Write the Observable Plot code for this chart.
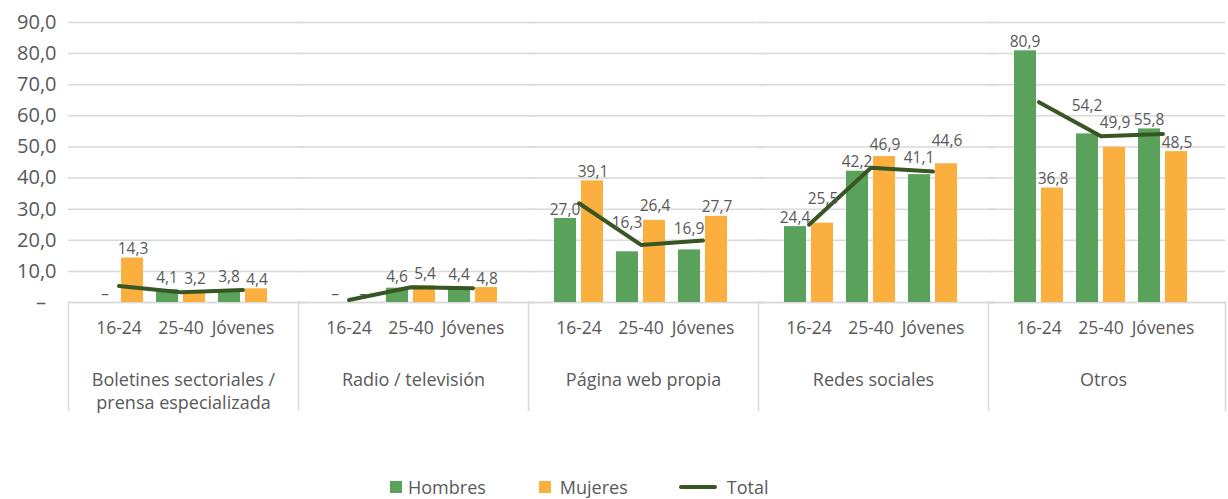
<!DOCTYPE html>
<html><head><meta charset="utf-8">
<script src="https://cdn.jsdelivr.net/npm/d3@7"></script>
<script src="https://cdn.jsdelivr.net/npm/@observablehq/plot@0.6"></script>
<style>
body{margin:0;background:#fff;font-family:"Open Sans",sans-serif;}
#legend{display:flex;align-items:center;height:54px;padding-left:390px;color:#595959;font-size:18px;}
.item{display:flex;align-items:center;}
.sw{width:12px;height:12px;margin-right:6px;}
.ln{width:38px;height:4px;border-radius:2px;margin-right:10px;}
</style></head><body>
<div id="chart"></div>
<div id="legend">
  <div class="item"><span class="sw" style="background:#5aa15b"></span>Hombres</div>
  <div class="item" style="margin-left:53px"><span class="sw" style="background:#fbaf3f;margin-right:9px"></span>Mujeres</div>
  <div class="item" style="margin-left:51px"><span class="ln" style="background:#375623"></span>Total</div>
</div>
<script>
const categorias = ["Boletines sectoriales /\nprensa especializada", "Radio / televisión", "Página web propia", "Redes sociales", "Otros"];
const edades = ["16-24", "25-40", "Jóvenes"];
const hombres = [0, 4.1, 3.8,  0, 4.6, 4.4,  27.0, 16.3, 16.9,  24.4, 42.2, 41.1,  80.9, 54.2, 55.8];
const mujeres = [14.3, 3.2, 4.4,  0, 5.4, 4.8,  39.1, 26.4, 27.7,  25.5, 46.9, 44.6,  36.8, 49.9, 48.5];
const total   = [5.3, 3.3, 4.0,  0.8, 4.9, 4.6,  31.9, 18.5, 19.9,  25.0, 43.3, 42.1,  64.4, 53.4, 54.2];
const yTicks = [0, 10, 20, 30, 40, 50, 60, 70, 80, 90];

const rows = [];
categorias.forEach((c, i) => edades.forEach((e, j) => {
  const k = i * 3 + j;
  rows.push({cat: c, edad: e, j, k, hombres: hombres[k], mujeres: mujeres[k], total: total[k]});
}));
const fmt = v => v === 0 ? "–" : v.toFixed(1).replace(".", ",");

// label placement: lift a label above the Total line when the line crosses it,
// then separate the two labels of a pair when they would collide.
const f = 0.22;
const labH = [], labM = [];
rows.forEach(r => {
  const {j, k} = r;
  const laH = j > 0 ? total[k - 1] + (1 - f) * (total[k] - total[k - 1]) : null;
  const laM = j < 2 ? total[k] + f * (total[k + 1] - total[k]) : null;
  const place = (v, la) => (v > 0 && la != null && la >= v - 1 && la <= v + 6) ? la + 1.3 : v;
  let yH = place(r.hombres, laH), yM = place(r.mujeres, laM);
  const tH = fmt(r.hombres), tM = fmt(r.mujeres);
  if (r.hombres > 0 && r.mujeres > 0 && (tH.length + tM.length) * 3.9 > 28 && Math.abs(yH - yM) < 5) {
    if (yH > yM) yH = yM + 5.5; else yM = yH + 5.5;
  }
  labH.push({cat: r.cat, edad: r.edad, y: yH, text: tH});
  labM.push({cat: r.cat, edad: r.edad, y: yM, text: tM});
});

const W = 1228, H = 460, Y0 = 302, TOP = 22;
const gray = "#595959", gridc = "#d9d9d9";
const chart = Plot.plot({
  width: W, height: H,
  marginTop: TOP, marginLeft: 67, marginRight: 8.5, marginBottom: H - Y0,
  style: {fontFamily: "Open Sans, sans-serif", color: gray, background: "#fff", overflow: "visible"},
  fx: {domain: categorias, padding: 0, axis: null},
  x: {domain: edades, paddingInner: 0.206, paddingOuter: 0.433, align: 0.45, axis: null},
  y: {domain: [0, 90], axis: null},
  marks: [
    Plot.gridY(yTicks, {stroke: gridc, strokeOpacity: 1, strokeWidth: 1.5, insetRight: -7}),
    Plot.axisY(yTicks, {tickSize: 0, tickPadding: 12, fontSize: 20, fill: gray,
      tickFormat: v => v === 0 ? "–\u00a0\u00a0" : v.toFixed(1).replace(".", ",")}),
    Plot.ruleY([0], {stroke: gridc, strokeWidth: 1.5, insetRight: -7}),
    Plot.frame({anchor: "left", insetTop: Y0 - TOP, insetBottom: -108, stroke: gridc, strokeWidth: 1.5}),
    Plot.frame({anchor: "right", facetAnchor: "right", insetRight: -7, insetTop: Y0 - TOP, insetBottom: -108, stroke: gridc, strokeWidth: 1.5}),
    Plot.barY(rows, {fx: "cat", x: "edad", y: "hombres", fill: "#5aa15b", insetRight: 27}),
    Plot.barY(rows, {fx: "cat", x: "edad", y: "mujeres", fill: "#fbaf3f", insetLeft: 27}),
    Plot.line(rows, {fx: "cat", x: "edad", y: "total", stroke: "#375623", strokeWidth: 4, strokeLinecap: "round"}),
    Plot.text(labH, {fx: "cat", x: "edad", y: "y", text: "text", dx: -14, dy: -4,
      lineAnchor: "bottom", fontSize: 15.5, fill: gray}),
    Plot.text(labM, {fx: "cat", x: "edad", y: "y", text: "text", dx: 14, dy: -4,
      lineAnchor: "bottom", fontSize: 15.5, fill: gray}),
    Plot.text(rows, {fx: "cat", x: "edad", text: "edad", frameAnchor: "bottom", dy: 31, fontSize: 17.5, fill: gray}),
    Plot.text(categorias, {fx: d => d, text: d => d, frameAnchor: "bottom", lineAnchor: "top", dy: 67,
      fontSize: 18, lineHeight: 1.28, fill: gray})
  ]
});
document.getElementById("chart").appendChild(chart);
</script>
</body></html>
